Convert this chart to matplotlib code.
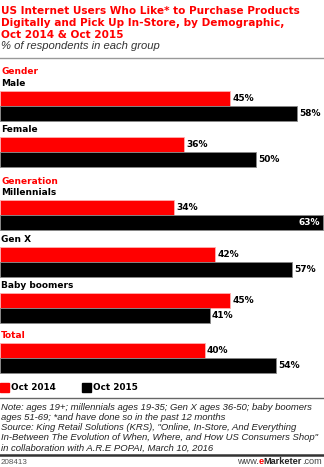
import matplotlib.pyplot as plt
from matplotlib.patches import Rectangle

# survey data
groups = ["Gender", "Generation", "Total"]
categories = ["Male", "Female", "Millennials", "Gen X", "Baby boomers", "Total"]
oct_2014 = [45, 36, 34, 42, 45, 40]
oct_2015 = [58, 50, 63, 57, 41, 54]
series_names = ["Oct 2014", "Oct 2015"]

RED = "#ff0000"
BLACK = "#000000"
W, H = 324, 467
PX_PER_PCT = 5.12

fig = plt.figure(figsize=(W / 100, H / 100), dpi=100)
fig.patch.set_facecolor("white")

# bars: x in percent, y in pixels
ax = fig.add_axes([0, 0, 1, 1])
ax.set_xlim(0, W / PX_PER_PCT)
ax.set_ylim(H, 0)
ax.axis("off")

# overlay for text and rules, in pixels
tx = fig.add_axes([0, 0, 1, 1], facecolor="none")
tx.set_xlim(0, W)
tx.set_ylim(H, 0)
tx.axis("off")

BOLD = dict(family="DejaVu Sans", fontweight="bold")
LAB = 6.5

title = ["US Internet Users Who Like* to Purchase Products",
         "Digitally and Pick Up In-Store, by Demographic,",
         "Oct 2014 & Oct 2015"]
for i, line in enumerate(title):
    tx.text(1, 11 + 12 * i, line, color=RED, fontsize=7.6, va="center", **BOLD)
tx.text(1, 46, "% of respondents in each group", color="#333333", fontsize=8.1,
        style="italic", family="Liberation Sans", va="center")
tx.plot([0, W], [57.5, 57.5], color="#999999", lw=1)

bar_h = 15
group_y = {"Gender": 71, "Generation": 181, "Total": 336}
bar_tops = [91, 137, 200, 247, 293, 343]

for g in groups:
    tx.text(1, group_y[g], g, color=RED, fontsize=LAB, va="center", **BOLD)

for i, cat in enumerate(categories):
    top = bar_tops[i]
    if cat != "Total":
        tx.text(1, top - 7.5, cat, color=BLACK, fontsize=LAB, va="center", **BOLD)
    y1 = top + bar_h / 2
    y2 = top + bar_h * 1.5
    ax.barh(y1, oct_2014[i], height=bar_h, color=RED, edgecolor="#ffb0b0", lw=0.6)
    ax.barh(y2, oct_2015[i], height=bar_h, color=BLACK, edgecolor="#888888", lw=0.6)
    for y, v in ((y1, oct_2014[i]), (y2, oct_2015[i])):
        if v * PX_PER_PCT > W - 25:
            ax.text(v - 0.5, y, f"{v}%", color="white", fontsize=LAB, va="center",
                    ha="right", **BOLD)
        else:
            ax.text(v + 0.4, y, f"{v}%", color=BLACK, fontsize=LAB, va="center",
                    ha="left", **BOLD)

# legend
for x0, name, col in ((0, series_names[0], RED), (82, series_names[1], BLACK)):
    tx.add_patch(Rectangle((x0, 383), 9, 9, color=col))
    tx.text(x0 + 11, 388, name, color=BLACK, fontsize=6.4, va="center", **BOLD)

tx.plot([0, W], [398, 398], color="#666666", lw=1)
notes = ["Note: ages 19+; millennials ages 19-35; Gen X ages 36-50; baby boomers",
         "ages 51-69; *and have done so in the past 12 months",
         "Source: King Retail Solutions (KRS), \"Online, In-Store, And Everything",
         "In-Between The Evolution of When, Where, and How US Consumers Shop\"",
         "in collaboration with A.R.E POPAI, March 10, 2016"]
for i, line in enumerate(notes):
    tx.text(1, 408 + 10 * i, line, color="#222222", fontsize=6.8, style="italic",
            family="Liberation Sans", va="center")
tx.plot([0, W], [455, 455], color="#333333", lw=1.8)
tx.text(1, 462, "208413", color="#555555", fontsize=5.8, family="Liberation Sans",
        va="center")

# footer brand: lay out left to right, then shift flush right
fig.canvas.draw()
r = fig.canvas.get_renderer()
inv = tx.transData.inverted()
parts = [("www.", "#444444", "normal"), ("e", RED, "bold"),
         ("Marketer", "#222222", "bold"), (".com", "#444444", "normal")]
x = 0
brand = []
for s, c, w in parts:
    t = tx.text(x, 462, s, color=c, fontsize=6.6, fontweight=w,
                family="Liberation Sans", va="center", ha="left")
    brand.append(t)
    bb = t.get_window_extent(r)
    x = inv.transform((bb.x1, bb.y0))[0]
shift = 322 - x
for t in brand:
    t.set_x(t.get_position()[0] + shift)

fig.savefig("out.png", dpi=100, facecolor="white")
